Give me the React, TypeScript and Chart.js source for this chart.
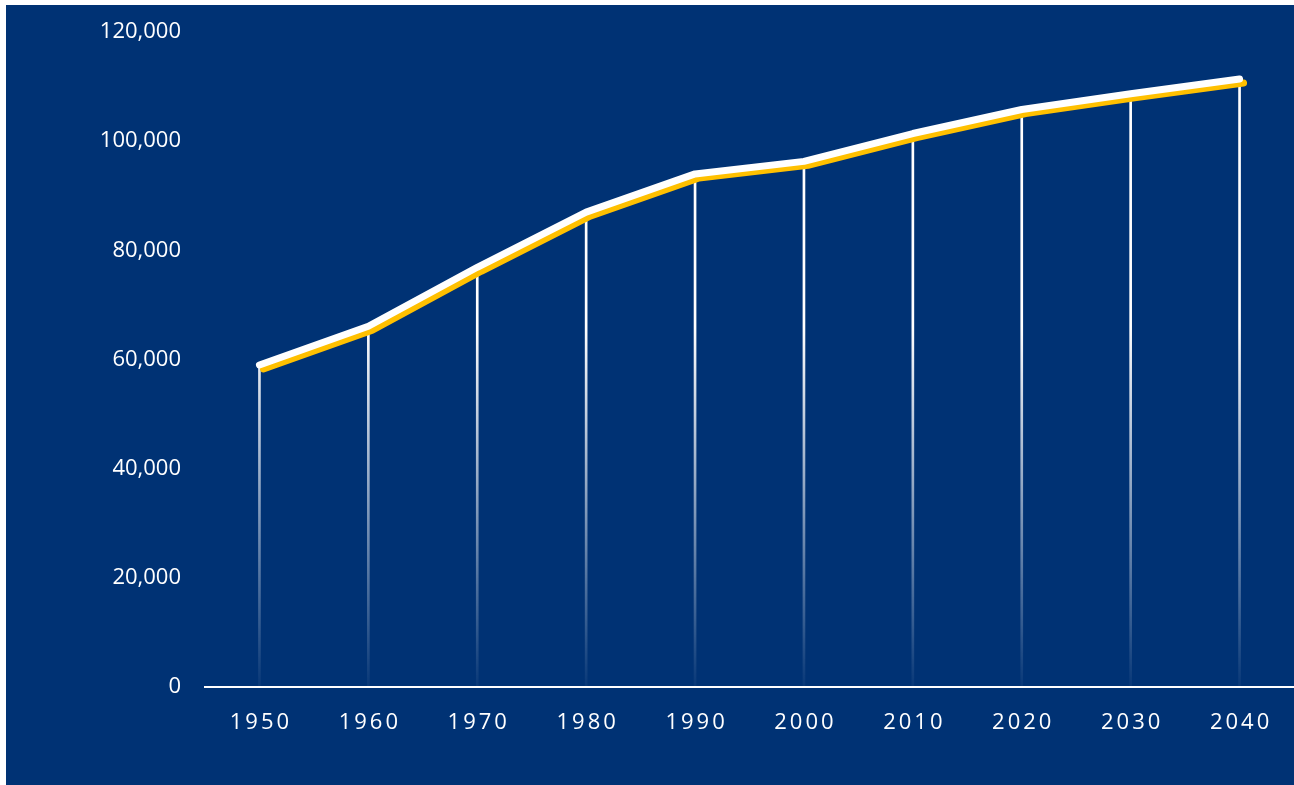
import React, { useEffect, useRef } from "react";
import { Chart, registerables } from "chart.js";

Chart.register(...registerables);

const years = ["1950", "1960", "1970", "1980", "1990", "2000", "2010", "2020", "2030", "2040"];
const population = [59000, 66100, 76900, 87000, 94000, 96300, 101400, 105800, 108700, 111400];
const yMin = 0;
const yMax = 120000;
const yStep = 20000;

const BG = "#003274";
const GOLD = "#FFC000";
const FONT = '"Open Sans", "Noto Sans", sans-serif';

export default function App() {
  const ref = useRef<HTMLCanvasElement | null>(null);

  useEffect(() => {
    document.body.style.margin = "0";
    document.body.style.overflow = "hidden";
    const canvas = ref.current;
    if (!canvas) return;

    const shadowPlugin = {
      id: "lineShadow",
      beforeDatasetDraw(chart: any, args: any) {
        if (args.index === 0) {
          const ctx = chart.ctx;
          ctx.save();
          ctx.shadowColor = GOLD;
          ctx.shadowOffsetX = 4;
          ctx.shadowOffsetY = 4;
          ctx.shadowBlur = 0;
        }
      },
      afterDatasetDraw(chart: any, args: any) {
        if (args.index === 0) chart.ctx.restore();
      },
    };

    const xLabelsPlugin = {
      id: "xLabels",
      afterDraw(chart: any) {
        const xs = chart.scales.x;
        const ctx = chart.ctx;
        ctx.save();
        ctx.font = `22px ${FONT}`;
        ctx.fillStyle = "#ffffff";
        ctx.textAlign = "center";
        ctx.textBaseline = "middle";
        (ctx as any).letterSpacing = "3px";
        years.forEach((lab, i) => {
          const x = xs.getPixelForValue(i);
          ctx.fillText(lab, x + 1.5, chart.chartArea.bottom + 35.5);
        });
        ctx.restore();
      },
    };

    const chart = new Chart(canvas, {
      data: {
        labels: years,
        datasets: [
          {
            type: "line",
            data: population,
            borderColor: "#ffffff",
            borderWidth: 7,
            borderCapStyle: "round",
            borderJoinStyle: "round",
            pointRadius: 0,
            tension: 0,
            clip: false,
            order: 0,
          } as any,
          {
            type: "bar",
            data: population,
            barThickness: 2,
            order: 1,
            backgroundColor: (c: any) => {
              const area = c.chart.chartArea;
              if (!area) return "#ffffff";
              const g = c.chart.ctx.createLinearGradient(0, area.top, 0, area.bottom);
              g.addColorStop(0, "rgba(255,255,255,1)");
              g.addColorStop(0.45, "rgba(255,255,255,1)");
              g.addColorStop(1, "rgba(255,255,255,0.03)");
              return g;
            },
          } as any,
        ],
      },
      options: {
        responsive: false,
        animation: false,
        devicePixelRatio: 1,
        layout: { padding: { top: 27, right: 0, left: 0, bottom: 0 } },
        plugins: { legend: { display: false }, tooltip: { enabled: false } },
        scales: {
          x: {
            type: "category",
            offset: true,
            grid: { display: false, drawTicks: false },
            border: { display: true, color: "#ffffff", width: 2 },
            ticks: { display: false },
            afterFit: (s: any) => {
              s.height = 98;
              s.paddingLeft = 0;
              s.paddingRight = 0;
            },
          },
          y: {
            min: yMin,
            max: yMax,
            grid: { display: false, drawTicks: false },
            border: { display: false },
            ticks: {
              stepSize: yStep,
              color: "#ffffff",
              padding: 24,
              font: { family: FONT, size: 22 },
            },
            afterFit: (s: any) => {
              s.width = 199;
              s.paddingTop = 12;
              s.paddingBottom = 12;
            },
          },
        },
      } as any,
      plugins: [shadowPlugin, xLabelsPlugin],
    });

    return () => chart.destroy();
  }, []);

  return (
    <div
      style={{
        position: "absolute",
        left: 6,
        top: 5,
        width: 1288,
        height: 780,
        background: BG,
      }}
    >
      <canvas ref={ref} width={1288} height={780} style={{ display: "block" }} />
    </div>
  );
}
